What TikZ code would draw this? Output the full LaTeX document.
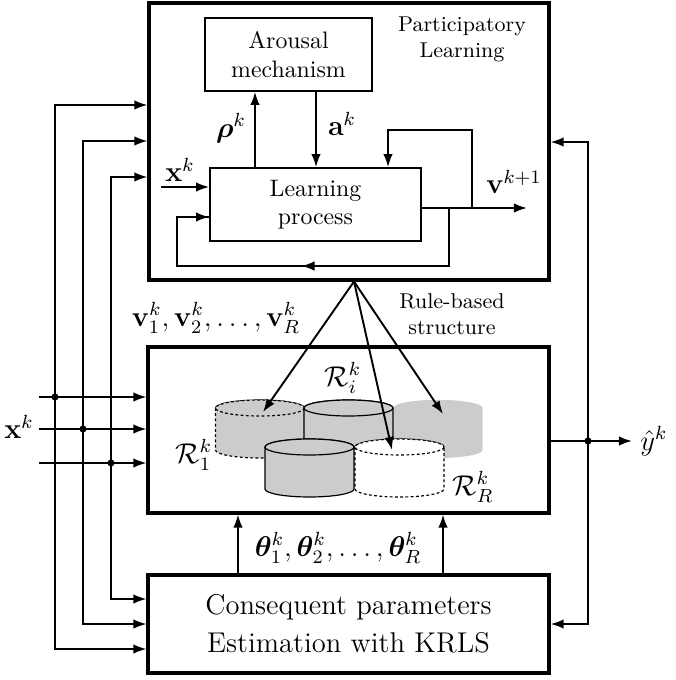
\documentclass[tikz,border=0pt]{standalone}
\usepackage{amsmath}
\usepackage{bm}
\usetikzlibrary{arrows.meta}
\usetikzlibrary{decorations.markings}

% one pixel of the sketch
\newcommand{\px}{0.42pt}
% cylinder: x centre, top y, options
\newcommand{\drum}[3]{%
  \path[#3] (#1-44.5,#2) -- (#1-44.5,#2+42)
    arc[start angle=180, end angle=0, x radius=44.5, y radius=8]
    -- (#1+44.5,#2)
    arc[start angle=0, end angle=-180, x radius=44.5, y radius=8] -- cycle;
  \path[#3] (#1,#2) ellipse[x radius=44.5, y radius=8];
}

\tikzset{
  outer/.style={draw, line width=1.3pt, inner sep=0pt},
  block/.style={draw, line width=0.7pt, inner sep=0pt, align=center},
  arr/.style={-{Latex[length=5.5pt,width=4pt]}, line width=0.8pt},
  junction/.style={circle, fill, inner sep=0pt, minimum size=3pt},
  ghost/.style={draw, line width=0.5pt, dash pattern=on 1.2pt off 1pt},
  lab/.style={font=\large},
}

\begin{document}
\begin{tikzpicture}[x=\px, y=-\px]
	\useasboundingbox (0,0) rectangle (675,680);
	
	% boxes
	\node[outer, minimum width=400*\px, minimum height=277*\px] (pl) at (349,141.5) {};
	\node[block, minimum width=167*\px, minimum height=73*\px] (arousal) at (288.5,54.5) {Arousal\\mechanism};
	\node[block, minimum width=211*\px, minimum height=73*\px] (learn) at (315.5,204.5) {Learning\\process};
	\node[outer, minimum width=401*\px, minimum height=166*\px] (rules) at (348.5,430) {};
	\node[outer, minimum width=401*\px, minimum height=98*\px, font=\large, align=center] (krls) at (348.5,624) {Consequent parameters\\[2pt]Estimation with KRLS};
	
	\node[font=\small, align=center] (pltext) at (462,39) {Participatory\\Learning};
	\node[font=\small, align=center] (rbtext) at (452,314) {Rule-based\\structure};
	
	% cylinders
	\drum{260}{408}{fill=gray!40, ghost}
	\drum{438}{408}{fill=gray!40}
	\drum{348.5}{408}{fill=gray!40, draw, line width=0.5pt}
	\drum{309.5}{447}{fill=gray!40, draw, line width=0.5pt}
	\drum{399.5}{447}{fill=white, ghost}
	
	\node[lab] (r1) at (194,455) {$\mathcal{R}_1^k$};
	\node[lab] (ri) at (343,378) {$\mathcal{R}_i^k$};
	\node[lab] (rR) at (473,487) {$\mathcal{R}_R^k$};
	
	% inside participatory learning
	\coordinate (rho) at (255,0);
	\coordinate (ak) at (316,0);
	\coordinate (xin) at (161,187);
	\coordinate (vout) at (527,208);
	\coordinate (fbup) at (472,208);
	\coordinate (fbtop) at (388,130);
	\coordinate (fbdn) at (449,208);
	\coordinate (fbbot) at (177,266);
	\coordinate (fbin) at (0,217);
	
	\draw[arr] (learn.north -| rho) -- (arousal.south -| rho);
	\draw[arr] (arousal.south -| ak) -- (learn.north -| ak);
	\draw[arr] (xin) -- (learn.west |- xin);
	\draw[arr] (learn.east |- vout) -- (vout);
	\draw[arr] (fbup) |- (fbtop) -- (learn.north -| fbtop);
	\draw[line width=0.8pt, postaction={decorate}, decoration={markings, mark=at position 0.5 with {\arrow{Latex[length=5.5pt,width=4pt]}}}] (fbdn) |- (fbbot) |- (learn.west |- fbin);
	\draw[arr] (fbbot) |- (learn.west |- fbin);
	
	\node[lab] (rholab) at (231,128) {$\bm{\rho}^k$};
	\node[lab] (aklab) at (342,124) {$\mathbf{a}^k$};
	\node[lab] (xklab) at (180,170) {$\mathbf{x}^k$};
	\node[lab] (vlab) at (514,182) {$\mathbf{v}^{k+1}$};
	
	% rules fan
	\coordinate (fan) at (354,0);
	\coordinate (a1) at (263,412);
	\coordinate (aR) at (392,450);
	\coordinate (ag) at (443,414);
	\foreach \t in {a1,aR,ag}
		\draw[arr] (pl.south -| fan) -- (\t);
	
	\node[lab] (vlist) at (216,318) {$\mathbf{v}_1^k, \mathbf{v}_2^k, \ldots, \mathbf{v}_R^k$};
	
	% consequent parameters
	\coordinate (th1) at (238,0);
	\coordinate (th2) at (443,0);
	\draw[arr] (krls.north -| th1) -- (rules.south -| th1);
	\draw[arr] (krls.north -| th2) -- (rules.south -| th2);
	\node[lab] (thlist) at (338,548) {$\bm{\theta}_1^k, \bm{\theta}_2^k, \ldots, \bm{\theta}_R^k$};
	
	% inputs
	\coordinate (xs) at (39,0);
	\coordinate (j1) at (55,397);
	\coordinate (j2) at (83,429);
	\coordinate (j3) at (111,463);
	\coordinate (p1) at (0,105);
	\coordinate (p2) at (0,141);
	\coordinate (p3) at (0,177);
	\coordinate (k1) at (0,649);
	\coordinate (k2) at (0,624);
	\coordinate (k3) at (0,599);
	\foreach \i in {1,2,3} {
		\draw[arr] (xs |- j\i) -- (rules.west |- j\i);
		\draw[arr] (j\i) |- (pl.west |- p\i);
		\draw[arr] (j\i) |- (krls.west |- k\i);
		\node[junction] (d\i) at (j\i) {};
	}
	\node[lab] (xk) at (19,427) {$\mathbf{x}^k$};
	
	% output
	\coordinate (jy) at (588,441);
	\coordinate (yout) at (632,441);
	\coordinate (r1) at (0,142);
	\draw[arr] (rules.east |- jy) -- (yout);
	\draw[arr] (jy) |- (pl.east |- r1);
	\draw[arr] (jy) |- (krls.east);
	\node[junction] (dy) at (jy) {};
	\node[lab, anchor=west] (yhat) at (yout) {$\hat{y}^k$};
	
\end{tikzpicture}
\end{document}
